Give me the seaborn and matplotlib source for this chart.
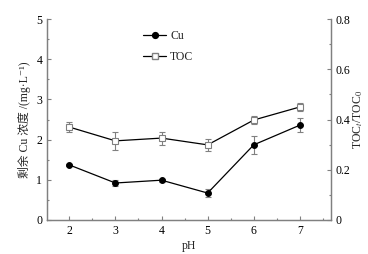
import numpy as np
import pandas as pd
import matplotlib
matplotlib.use("Agg")
import matplotlib.pyplot as plt
from matplotlib.ticker import MultipleLocator, FuncFormatter
from matplotlib.lines import Line2D
import seaborn as sns

# values
ph = [2, 3, 4, 5, 6, 7]
cu = [1.37, 0.92, 0.99, 0.67, 1.87, 2.36]
cu_err = [0.03, 0.08, 0.04, 0.10, 0.22, 0.18]
toc = [0.370, 0.315, 0.326, 0.299, 0.398, 0.450]
toc_err = [0.021, 0.035, 0.026, 0.024, 0.016, 0.016]

sns.set_style("ticks")
plt.rcParams['font.family'] = ['Liberation Serif', 'Noto Sans CJK SC', 'DejaVu Serif']
plt.rcParams['mathtext.fontset'] = 'stix'

fs = 8.5
ms = 4.2
df = pd.DataFrame({"pH": ph, "Cu": cu, "TOC": toc})

fig = plt.figure(figsize=(3.68, 2.54), dpi=100)
ax = fig.add_axes([0.128, 0.134, 0.771, 0.791])
ax2 = ax.twinx()

gray = "#808080"

ax.errorbar(ph, cu, yerr=cu_err, fmt="none", ecolor=gray, elinewidth=0.8, capsize=2, capthick=0.8, zorder=2)
sns.lineplot(data=df, x="pH", y="Cu", ax=ax, color="black", lw=0.9, marker="o",
             markersize=ms, markerfacecolor="black", markeredgecolor="black", zorder=3)

ax2.errorbar(ph, toc, yerr=toc_err, fmt="none", ecolor=gray, elinewidth=0.8, capsize=2, capthick=0.8, zorder=2)
sns.lineplot(data=df, x="pH", y="TOC", ax=ax2, color="black", lw=0.9, marker="s",
             markersize=ms, markerfacecolor="white", markeredgecolor=gray, markeredgewidth=0.8, zorder=3)

ax.set_xlim(1.52, 7.67)
ax.set_ylim(0, 5)
ax2.set_ylim(0, 0.8)
ax.set_xticks(ph)
ax.xaxis.set_minor_locator(MultipleLocator(0.5))
ax.yaxis.set_major_locator(MultipleLocator(1))
ax.yaxis.set_minor_locator(MultipleLocator(0.5))
ax2.yaxis.set_major_locator(MultipleLocator(0.2))
ax2.yaxis.set_minor_locator(MultipleLocator(0.1))
ax2.yaxis.set_major_formatter(FuncFormatter(lambda v, p: "0" if abs(v) < 1e-9 else f"{v:.1f}"))

for a in (ax, ax2):
    a.tick_params(which="both", direction="in", colors=gray, labelcolor="black", labelsize=fs, width=0.8)
    a.tick_params(which="major", length=3)
    a.tick_params(which="minor", length=1.5)
    for s in a.spines.values():
        s.set_color(gray)
        s.set_linewidth(0.9)
    a.spines["top"].set_visible(False)
ax2.tick_params(axis="x", which="both", bottom=False, top=False)

ax.set_xlabel("pH", fontsize=fs, labelpad=2)
ax.set_ylabel("剩余 Cu 浓度 /(mg·L⁻¹)", fontsize=fs, labelpad=4)
ax2.set_ylabel("TOC$_t$/TOC$_0$", fontsize=fs, labelpad=1)

handles = [
    Line2D([], [], color="black", lw=0.9, marker="o", markersize=ms, markerfacecolor="black"),
    Line2D([], [], color="black", lw=0.9, marker="s", markersize=ms, markerfacecolor="white", markeredgecolor=gray),
]
ax.legend(handles, ["Cu", "TOC"], loc="upper left", bbox_to_anchor=(0.30, 1.0), frameon=False,
          fontsize=fs, handlelength=2.0, handletextpad=0.3, labelspacing=0.8)

fig.savefig("out.png", dpi=100)
